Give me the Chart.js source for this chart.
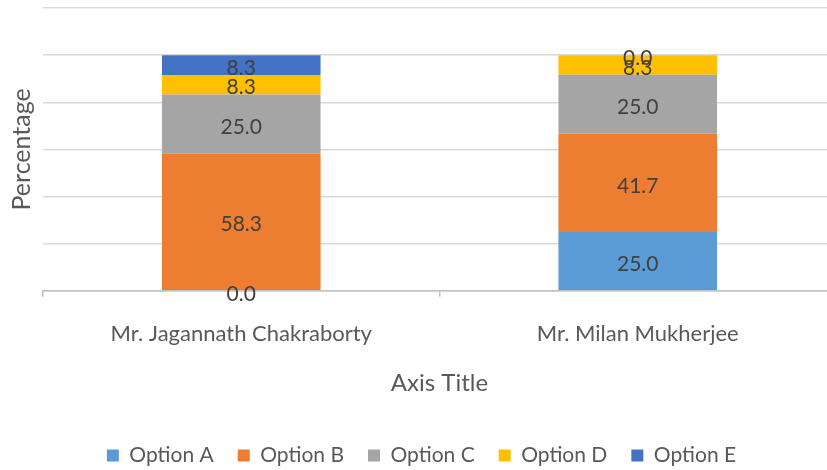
<!DOCTYPE html>
<html>
<head>
<meta charset="utf-8">
<script src="https://cdn.jsdelivr.net/npm/chart.js@4.4.1/dist/chart.umd.min.js"></script>
<style>
  html, body { margin: 0; padding: 0; background: #fff; overflow: hidden; }
  #wrap { width: 836px; height: 470px; }
</style>
</head>
<body>
<div id="wrap"><canvas id="myChart" width="836" height="470"></canvas></div>
<script>
const categories = ["Mr. Jagannath Chakraborty", "Mr. Milan Mukherjee"];
const seriesNames = ["Option A", "Option B", "Option C", "Option D", "Option E"];
const optionA = [0.0, 25.0];
const optionB = [58.3, 41.7];
const optionC = [25.0, 25.0];
const optionD = [8.3, 8.3];
const optionE = [8.3, 0.0];
const colors = ["#5B9BD5", "#ED7D31", "#A5A5A5", "#FFC000", "#4472C4"];

const FONT = "Lato, 'Open Sans', sans-serif";

// draws the value in the middle of each stacked segment
const segmentLabels = {
  id: "segmentLabels",
  afterDatasetsDraw(chart) {
    const ctx = chart.ctx;
    ctx.save();
    ctx.font = "21px " + FONT;
    ctx.fillStyle = "#404040";
    ctx.textAlign = "center";
    ctx.textBaseline = "middle";
    chart.data.datasets.forEach(function (ds, i) {
      const meta = chart.getDatasetMeta(i);
      meta.data.forEach(function (bar, j) {
        const p = bar.getProps(["x", "y", "base"], true);
        ctx.fillText(ds.data[j].toFixed(1), p.x, (p.y + p.base) / 2 + 3);
      });
    });
    ctx.restore();
  }
};

const allSeries = [optionA, optionB, optionC, optionD, optionE];

new Chart(document.getElementById("myChart"), {
  type: "bar",
  data: {
    labels: categories,
    datasets: allSeries.map(function (vals, i) {
      return {
        label: seriesNames[i],
        data: vals,
        backgroundColor: colors[i],
        borderWidth: 0,
        barPercentage: 0.4,
        categoryPercentage: 1.0
      };
    })
  },
  options: {
    responsive: false,
    animation: false,
    layout: { padding: { top: 8, left: 7, right: 0, bottom: -6 } },
    plugins: {
      tooltip: { enabled: false },
      legend: {
        position: "bottom",
        labels: {
          boxWidth: 12,
          boxHeight: 12,
          padding: 24,
          color: "#595959",
          font: { family: FONT, size: 21 }
        }
      }
    },
    scales: {
      x: {
        stacked: true,
        border: { color: "#BFBFBF", width: 1.5 },
        grid: { drawOnChartArea: false, drawTicks: true, tickLength: 6, offset: true, color: "#BFBFBF", lineWidth: 1.5 },
        ticks: { color: "#595959", font: { family: FONT, size: 22 }, padding: 24 },
        title: { display: true, text: "Axis Title", color: "#595959", font: { family: FONT, size: 24 }, padding: { top: -2, bottom: 23 } }
      },
      y: {
        stacked: true,
        min: 0,
        max: 120,
        border: { display: false },
        grid: { color: "#D9D9D9", lineWidth: 1.5, drawTicks: false },
        ticks: { display: false, stepSize: 20 },
        title: { display: true, text: "Percentage", color: "#595959", font: { family: FONT, size: 25 }, padding: { top: 0, bottom: 6 } }
      }
    }
  },
  plugins: [segmentLabels]
});
</script>
</body>
</html>
